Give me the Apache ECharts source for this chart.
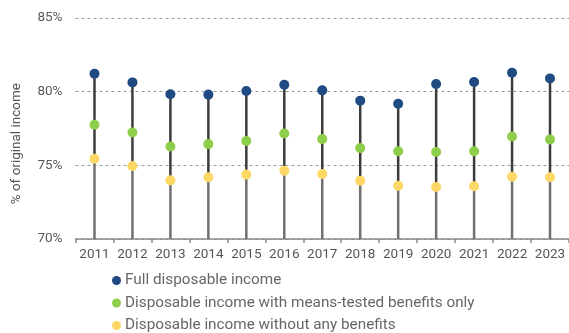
<!DOCTYPE html>
<html><head><meta charset="utf-8">
<script src="https://cdn.jsdelivr.net/npm/echarts@6/dist/echarts.min.js"></script>
<style>html,body{margin:0;padding:0;background:#fff}#c{width:569px;height:333px}</style>
</head><body><div id="c"></div>
<script>
var years = ['2011','2012','2013','2014','2015','2016','2017','2018','2019','2020','2021','2022','2023'];
var fullDisposable = [81.22,80.63,79.82,79.80,80.05,80.47,80.09,79.39,79.18,80.52,80.66,81.29,80.90];
var meansTested = [77.76,77.23,76.28,76.44,76.65,77.16,76.78,76.17,75.96,75.90,75.96,76.96,76.76];
var noBenefits = [75.45,74.96,73.98,74.19,74.37,74.64,74.41,73.96,73.62,73.53,73.58,74.23,74.19];
var yTicks = [70,75,80,85];
var names = ['Full disposable income','Disposable income with means-tested benefits only','Disposable income without any benefits'];
var colors = ['#1f4a82','#8dcf4a','#fdd867'];
var font = 'Roboto';

var upperStem = fullDisposable.map(function(v,i){ return +(v - noBenefits[i]).toFixed(4); });

var chart = echarts.init(document.getElementById('c'), null, {renderer:'canvas'});
chart.setOption({
  animation:false,
  textStyle:{fontFamily:font},
  grid:{left:75.5, top:18, width:497, height:221, containLabel:false},
  legend:{
    orient:'vertical', left:112, top:273, height:120, itemGap:7.5, itemWidth:9, itemHeight:9,
    icon:'circle', data:names, padding:0,
    textStyle:{fontFamily:font, fontSize:15.3, color:'#666666', padding:[0,0,0,-1]}
  },
  graphic:[{type:'text', left:10, top:83, rotation:Math.PI/2, style:{text:'% of original income', fontFamily:font, fontSize:13.5, fill:'#555555'}}],
  xAxis:{
    type:'category', data:years, boundaryGap:true,
    axisLine:{lineStyle:{color:'#8a8a8a', width:1.5}},
    axisTick:{show:true, length:4, lineStyle:{color:'#8a8a8a', width:1.5}},
    axisLabel:{fontFamily:font, fontSize:13.5, color:'#555555', margin:9, interval:0}
  },
  yAxis:{
    type:'value', min:70, max:85, interval:5,
    axisLine:{show:false}, axisTick:{show:false},
    axisLabel:{fontFamily:font, fontSize:13.5, color:'#595959', margin:13,
      formatter:function(v){ return yTicks.indexOf(v)>=0 ? v+'%' : ''; }},
    splitLine:{lineStyle:{type:[3,3], color:'#9a9a9a', width:1}}
  },
  series:[
    {type:'bar', stack:'s', data:noBenefits, barWidth:2.5, itemStyle:{color:'#707070'}, silent:true, z:1},
    {type:'bar', stack:'s', data:upperStem, barWidth:2.5, itemStyle:{color:'#3c3c3c'}, silent:true, z:1},
    {name:names[0], type:'scatter', data:fullDisposable, symbolSize:10, itemStyle:{color:colors[0], opacity:1}, z:5},
    {name:names[1], type:'scatter', data:meansTested, symbolSize:10, itemStyle:{color:colors[1], opacity:1}, z:5},
    {name:names[2], type:'scatter', data:noBenefits, symbolSize:10, itemStyle:{color:colors[2], opacity:1}, z:5}
  ]
});
</script></body></html>
